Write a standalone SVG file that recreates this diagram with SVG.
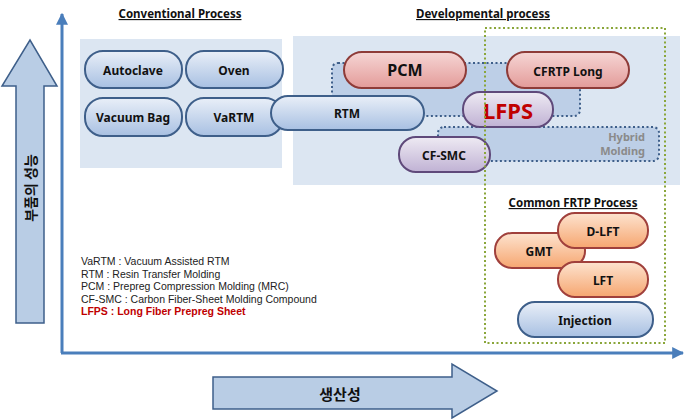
<svg xmlns="http://www.w3.org/2000/svg" width="693" height="419" viewBox="0 0 693 419">
<defs>
<linearGradient id="gb" x1="0" y1="0" x2="0" y2="1"><stop offset="0" stop-color="#e9eff8"/><stop offset="1" stop-color="#a8c0e2"/></linearGradient>
<linearGradient id="gr" x1="0" y1="0" x2="0" y2="1"><stop offset="0" stop-color="#f6d6d5"/><stop offset="1" stop-color="#e39b99"/></linearGradient>
<linearGradient id="go" x1="0" y1="0" x2="0" y2="1"><stop offset="0" stop-color="#fde3cf"/><stop offset="1" stop-color="#f6a670"/></linearGradient>
<linearGradient id="gp" x1="0" y1="0" x2="0" y2="1"><stop offset="0" stop-color="#eeeaf3"/><stop offset="1" stop-color="#c0b2d4"/></linearGradient>
<marker id="ah" viewBox="0 0 10 10" refX="9" refY="5" markerWidth="4" markerHeight="4" orient="auto"><path d="M0,0 L10,5 L0,10 z" fill="#4a7ebb"/></marker>
</defs>
<style>
text{font-family:"Noto Sans","Noto Sans CJK KR",sans-serif;}
.ko{font-family:"Noto Sans CJK KR",sans-serif;font-weight:bold;fill:#111;text-anchor:middle;dominant-baseline:central;}
.lbl{font-size:12px;font-weight:bold;fill:#111;text-anchor:middle;dominant-baseline:central;}
.nb{fill:url(#gb);stroke:#3e5f8a;stroke-width:2;}
.nr{fill:url(#gr);stroke:#8e3b38;stroke-width:2;}
.no{fill:url(#go);stroke:#a0403c;stroke-width:2;}
.np{fill:url(#gp);stroke:#5f497a;stroke-width:2;}
.title{font-size:11.5px;font-weight:bold;fill:#111;text-anchor:middle;text-decoration:underline;}
.leg{font-family:"Liberation Sans",Arial,sans-serif;font-size:10.5px;fill:#222;}
.dot{fill:#a8c0e0;fill-opacity:0.6;stroke:#3e5f8a;stroke-width:2;stroke-dasharray:2 2.5;}
.hy{font-size:11px;font-weight:bold;fill:#8a8a8a;text-anchor:end;}
</style>
<!-- panels -->
<rect x="80" y="39" width="202" height="129" fill="#dce6f2"/>
<rect x="293" y="36" width="387" height="149" fill="#dce6f2"/>
<text class="title" x="180" y="18">Conventional Process</text>
<text class="title" x="483" y="18">Developmental process</text>
<!-- big arrows -->
<g id="perf-arrow">
<path d="M16,323 L16,86 L2,86 L30,40 L57,86 L44,86 L44,323 Z" fill="#b9cde5" stroke="#3e5f8a" stroke-width="1.5"/>
<text class="ko" x="30" y="188" transform="rotate(-90 30 188)" style="font-size:14px">부품의 성능</text>
</g>
<g id="prod-arrow">
<path d="M213,377 L452,377 L452,364 L497,391 L452,418 L452,409 L213,409 Z" fill="#b9cde5" stroke="#3e5f8a" stroke-width="1.5"/>
<text class="ko" x="340" y="393" style="font-size:15px">생산성</text>
</g>
<!-- axes -->
<g id="connectors">
<path d="M62,353 L62,14" stroke="#4a7ebb" stroke-width="3" fill="none" marker-end="url(#ah)"/>
<path d="M61,353 L683,353" stroke="#4a7ebb" stroke-width="3" fill="none" marker-end="url(#ah)"/>
</g>
<!-- dotted regions -->
<rect class="dot" x="332" y="63" width="248" height="53" rx="6"/>
<g id="hybrid">
<rect class="dot" x="438" y="127" width="221" height="34" rx="6"/>
<text class="hy" x="645" y="141">Hybrid</text>
<text class="hy" x="645" y="155">Molding</text>
</g>
<!-- conventional nodes -->
<g id="autoclave"><rect class="nb" x="85" y="51" width="97" height="37" rx="18"/><text class="lbl" x="133" y="70">Autoclave</text></g>
<g id="oven"><rect class="nb" x="186" y="51" width="97" height="37" rx="18"/><text class="lbl" x="234" y="70">Oven</text></g>
<g id="vacuum-bag"><rect class="nb" x="85" y="98" width="97" height="38" rx="18"/><text class="lbl" x="133" y="117">Vacuum Bag</text></g>
<g id="vartm"><rect class="nb" x="186" y="98" width="97" height="38" rx="18"/><text class="lbl" x="234" y="117">VaRTM</text></g>
<!-- developmental nodes -->
<g id="rtm"><rect class="nb" x="271" y="96" width="153" height="34" rx="17"/><text class="lbl" x="347" y="113">RTM</text></g>
<g id="pcm"><rect class="nr" x="344" y="52" width="122" height="36" rx="18"/><text class="lbl" x="405" y="70" style="font-size:16px">PCM</text></g>
<g id="cfrtp-long"><rect class="nr" x="507" y="52" width="122" height="36" rx="18"/><text class="lbl" x="568" y="71">CFRTP Long</text></g>
<g id="lfps"><rect class="np" x="463" y="92" width="90" height="35" rx="17"/><text class="lbl" x="508" y="110" style="font-size:22px;fill:#c00000">LFPS</text></g>
<g id="cf-smc"><rect class="np" x="399" y="137" width="91" height="35" rx="17"/><text class="lbl" x="444" y="155">CF-SMC</text></g>
<!-- common FRTP -->
<rect x="485" y="28" width="180" height="315" fill="none" stroke="#8aa63a" stroke-width="2" stroke-dasharray="2 2.5"/>
<text class="title" x="573" y="207">Common FRTP Process</text>
<g id="gmt"><rect class="no" x="495" y="233" width="90" height="35" rx="17"/><text class="lbl" x="539" y="251">GMT</text></g>
<g id="d-lft"><rect class="no" x="558" y="213" width="90" height="35" rx="17"/><text class="lbl" x="603" y="231">D-LFT</text></g>
<g id="lft"><rect class="no" x="558" y="262" width="90" height="35" rx="17"/><text class="lbl" x="603" y="280">LFT</text></g>
<g id="injection"><rect class="nb" x="518" y="302" width="135" height="35" rx="17"/><text class="lbl" x="585" y="320">Injection</text></g>
<!-- legend -->
<g id="legend">
<text class="leg" x="81" y="265">VaRTM : Vacuum Assisted RTM</text>
<text class="leg" x="81" y="277.5">RTM : Resin Transfer Molding</text>
<text class="leg" x="81" y="290">PCM : Prepreg Compression Molding (MRC)</text>
<text class="leg" x="81" y="302.5">CF-SMC : Carbon Fiber-Sheet Molding Compound</text>
<text class="leg" x="81" y="315" style="fill:#c00000;font-weight:bold">LFPS : Long Fiber Prepreg Sheet</text>
</g>
</svg>
